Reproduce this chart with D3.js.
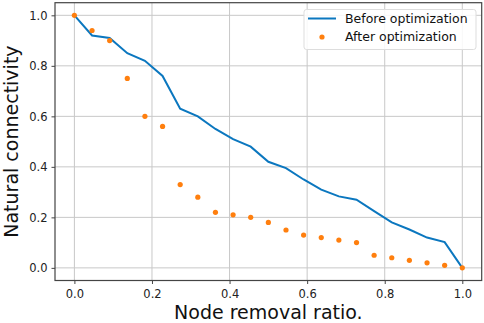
<!DOCTYPE html>
<html>
<head>
<meta charset="utf-8">
<script src="https://cdn.jsdelivr.net/npm/d3@7"></script>
<style>
  body { margin: 0; background: #fff; }
  svg { display: block; font-family: "DejaVu Sans", sans-serif; }
</style>
</head>
<body>
<svg width="484" height="323"></svg>
<script>
// removal ratio steps, 23 of them from 0 to 1
const ratios = [0, 0.0455, 0.0909, 0.1364, 0.1818, 0.2273, 0.2727, 0.3182, 0.3636, 0.4091, 0.4545,
	0.5, 0.5455, 0.5909, 0.6364, 0.6818, 0.7273, 0.7727, 0.8182, 0.8636, 0.9091, 0.9545, 1];
const before = [1.0, 0.92, 0.91, 0.85, 0.82, 0.76, 0.63, 0.60, 0.55, 0.51, 0.48,
	0.42, 0.395, 0.35, 0.31, 0.283, 0.27, 0.225, 0.18, 0.152, 0.12, 0.102, 0.0];
const after = [1.0, 0.94, 0.90, 0.75, 0.60, 0.56, 0.33, 0.28, 0.22, 0.21, 0.20,
	0.18, 0.15, 0.13, 0.12, 0.11, 0.10, 0.05, 0.04, 0.03, 0.02, 0.01, 0.0];
const xTicks = [0, 0.2, 0.4, 0.6, 0.8, 1.0];
const yTicks = [0, 0.2, 0.4, 0.6, 0.8, 1.0];

let svg = d3.select("svg");
const margin = {left: 55, right: 2.3, top: 2.7, bottom: 42.5};
const W = 484, H = 323;

let x = d3.scaleLinear().domain([-0.05, 1.05]).range([margin.left, W - margin.right]);
let y = d3.scaleLinear().domain([-0.05, 1.05]).range([H - margin.bottom, margin.top]);

// grid
let grid = svg.append("g").attr("stroke", "#c8c8c8").attr("stroke-width", 1);
grid.selectAll(".gx").data(xTicks).enter().append("line")
	.attr("x1", d => x(d)).attr("x2", d => x(d))
	.attr("y1", y.range()[0]).attr("y2", y.range()[1]);
grid.selectAll(".gy").data(yTicks).enter().append("line")
	.attr("y1", d => y(d)).attr("y2", d => y(d))
	.attr("x1", x.range()[0]).attr("x2", x.range()[1]);

// axes
let xAxis = svg.append("g")
	.attr("transform", `translate(0,${H - margin.bottom})`)
	.call(d3.axisBottom(x).tickValues(xTicks).tickFormat(d3.format(".1f")).tickSize(3.5).tickPadding(6));
let yAxis = svg.append("g")
	.attr("transform", `translate(${margin.left},0)`)
	.call(d3.axisLeft(y).tickValues(yTicks).tickFormat(d3.format(".1f")).tickSize(3.5).tickPadding(4));
[xAxis, yAxis].forEach(a => {
	a.select(".domain").remove();
	a.selectAll("line").attr("stroke", "#444");
	a.selectAll("text").attr("fill", "#222").style("font-size", "11.5px")
		.style("font-family", "DejaVu Sans");
});

// frame
svg.append("rect")
	.attr("x", x.range()[0]).attr("y", y.range()[1])
	.attr("width", x.range()[1] - x.range()[0])
	.attr("height", y.range()[0] - y.range()[1])
	.attr("fill", "none").attr("stroke", "#444").attr("stroke-width", 1.2);

// series
let line = d3.line().x((d, i) => x(ratios[i])).y(d => y(d));
svg.append("path").datum(before)
	.attr("d", line)
	.attr("fill", "none").attr("stroke", "#0b77bf").attr("stroke-width", 2);

svg.append("g").selectAll("circle").data(after).enter().append("circle")
	.attr("cx", (d, i) => x(ratios[i])).attr("cy", d => y(d))
	.attr("r", 2.6).attr("fill", "#ff7f0e");

// labels
svg.append("text")
	.attr("x", (x.range()[0] + x.range()[1]) / 2).attr("y", 319)
	.attr("text-anchor", "middle").style("font-size", "19px").attr("fill", "#111")
	.text("Node removal ratio.");
svg.append("text")
	.attr("transform", `translate(17.5,${(y.range()[0] + y.range()[1]) / 2}) rotate(-90)`)
	.attr("text-anchor", "middle").style("font-size", "19px").attr("fill", "#111")
	.text("Natural connectivity");

// legend
let legend = svg.append("g").attr("transform", "translate(304,9.5)");
legend.append("rect")
	.attr("width", 172).attr("height", 40).attr("rx", 2.5)
	.attr("fill", "#fff").attr("fill-opacity", 0.85).attr("stroke", "#ddd");
legend.append("line")
	.attr("x1", 4).attr("x2", 32).attr("y1", 9).attr("y2", 9)
	.attr("stroke", "#0b77bf").attr("stroke-width", 2);
legend.append("circle").attr("cx", 18).attr("cy", 27.5).attr("r", 2.6).attr("fill", "#ff7f0e");
legend.append("text").attr("x", 41).attr("y", 13.3).style("font-size", "12.5px").attr("fill", "#111")
	.text("Before optimization");
legend.append("text").attr("x", 41).attr("y", 31.8).style("font-size", "12.5px").attr("fill", "#111")
	.text("After optimization");
</script>
</body>
</html>
